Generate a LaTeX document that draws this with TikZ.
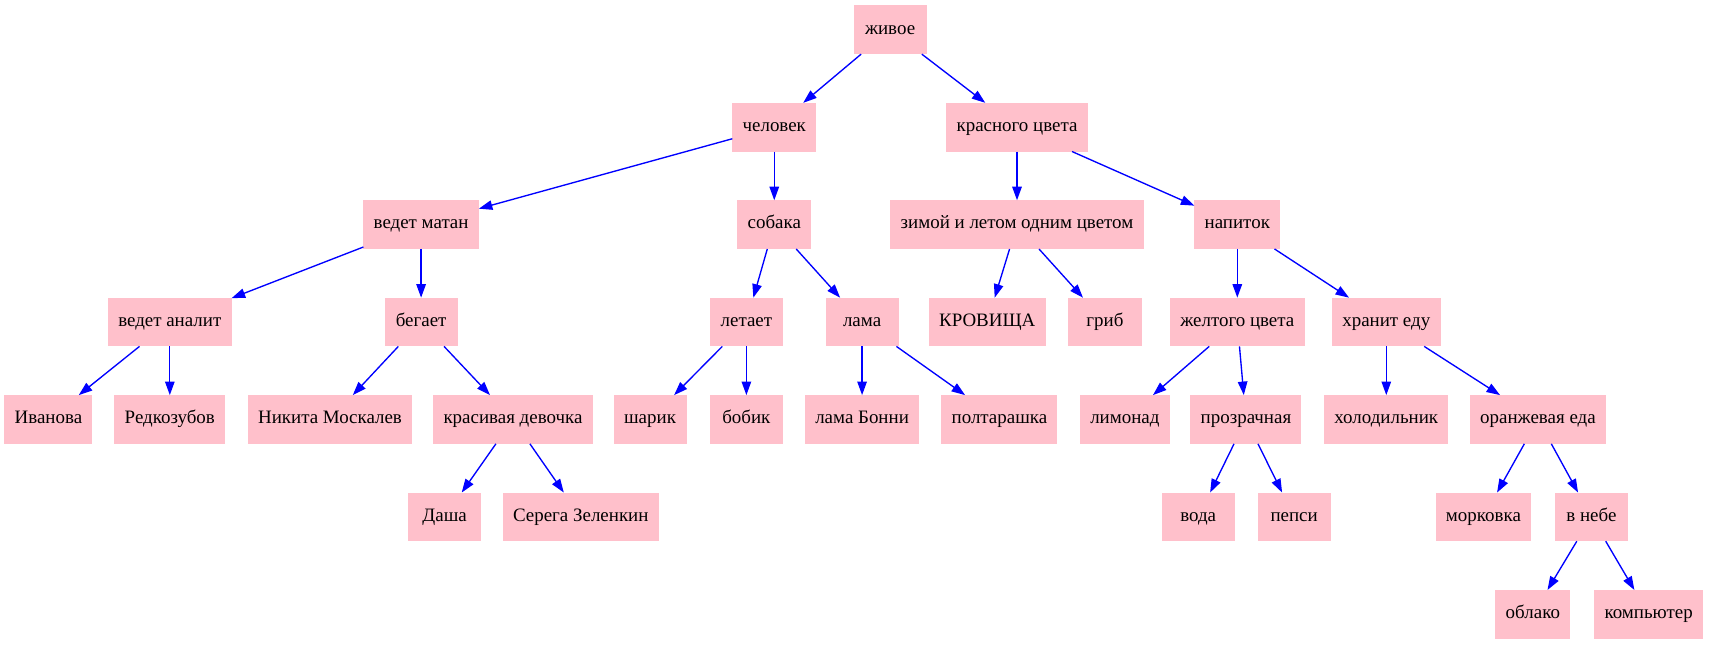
\documentclass[tikz,border=0pt]{standalone}
\usepackage{fontspec}
\setmainfont{Liberation Serif}
\usetikzlibrary{arrows.meta}
\definecolor{gvpink}{RGB}{255,192,203}
\definecolor{gvblue}{RGB}{0,0,255}
\tikzset{
  gvnode/.style={fill=gvpink, draw=none, rectangle, outer sep=0pt,
    inner xsep=7.6pt, inner ysep=3.96pt, minimum width=54pt, minimum height=36pt,
    text height=9.6pt, text depth=3.2pt,
    font=\fontsize{14pt}{16pt}\selectfont},
  gvedge/.style={draw=gvblue, line width=1pt, -{Triangle[length=10pt,width=7pt]}}
}
\begin{document}
\begin{tikzpicture}[x=1pt,y=1pt]
\useasboundingbox (0,0) rectangle (1263,-476);
% row 1
\node[gvnode] (n1) at (657.8,-22) {живое};
% row 2
\node[gvnode] (n2) at (572.2,-94) {человек};
\node[gvnode] (n3) at (751.6,-94) {красного цвета};
% row 3
\node[gvnode] (n4) at (311.2,-166) {ведет матан};
\node[gvnode] (n5) at (572.2,-166) {собака};
\node[gvnode] (n6) at (751.6,-166) {зимой и летом одним цветом};
\node[gvnode] (n7) at (914.4,-166) {напиток};
% row 4
\node[gvnode] (n8) at (125.5,-238) {ведет аналит};
\node[gvnode] (n9) at (311.2,-238) {бегает};
\node[gvnode] (n10) at (551.6,-238) {летает};
\node[gvnode] (n11) at (637.1,-238) {лама};
\node[gvnode] (n12) at (729.6,-238) {КРОВИЩА};
\node[gvnode] (n13) at (816.6,-238) {гриб};
\node[gvnode] (n14) at (914.4,-238) {желтого цвета};
\node[gvnode] (n15) at (1024.5,-238) {хранит еду};
% row 5
\node[gvnode] (n16) at (35.8,-310) {Иванова};
\node[gvnode] (n17) at (125.5,-310) {Редкозубов};
\node[gvnode] (n18) at (243.9,-310) {Никита Москалев};
\node[gvnode] (n19) at (379.1,-310) {красивая девочка};
\node[gvnode] (n20) at (480.4,-310) {шарик};
\node[gvnode] (n21) at (551.6,-310) {бобик};
\node[gvnode] (n22) at (637.1,-310) {лама Бонни};
\node[gvnode] (n23) at (738.6,-310) {полтарашка};
\node[gvnode] (n24) at (831.3,-310) {лимонад};
\node[gvnode] (n25) at (920.8,-310) {прозрачная};
\node[gvnode] (n26) at (1024.5,-310) {холодильник};
\node[gvnode] (n27) at (1136.6,-310) {оранжевая еда};
% row 6
\node[gvnode] (n28) at (328.6,-382) {Даша};
\node[gvnode] (n29) at (429.2,-382) {Серега Зеленкин};
\node[gvnode] (n30) at (885.5,-382) {вода};
\node[gvnode] (n31) at (956.4,-382) {пепси};
\node[gvnode] (n32) at (1096.3,-382) {морковка};
\node[gvnode] (n33) at (1176.1,-382) {в небе};
% row 7
\node[gvnode] (n34) at (1132.8,-454) {облако};
\node[gvnode] (n35) at (1218.4,-454) {компьютер};
% edges
\foreach \a/\b in {n1/n2, n1/n3, n2/n4, n2/n5, n3/n6, n3/n7,
  n4/n8, n4/n9, n5/n10, n5/n11, n6/n12, n6/n13, n7/n14, n7/n15,
  n8/n16, n8/n17, n9/n18, n9/n19, n10/n20, n10/n21, n11/n22, n11/n23,
  n14/n24, n14/n25, n15/n26, n15/n27,
  n19/n28, n19/n29, n25/n30, n25/n31, n27/n32, n27/n33,
  n33/n34, n33/n35}
  \draw[gvedge] (\a) -- (\b);
\end{tikzpicture}
\end{document}
